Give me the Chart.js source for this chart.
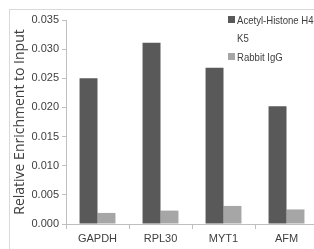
<!DOCTYPE html>
<html>
<head>
<meta charset="utf-8">
<script src="https://cdn.jsdelivr.net/npm/chart.js@4"></script>
<style>
  html, body { margin: 0; padding: 0; background: #fff; overflow: hidden; }
  #wrap { position: relative; width: 314px; height: 249px; overflow: hidden; }
  #frame { position: absolute; left: 9px; top: 9px; width: 400px; height: 300px;
           border-left: 1px solid #d9d9d9; border-top: 1px solid #d9d9d9; }
  #chart { position: absolute; left: 0; top: 0; }
  .legend { position: absolute; left: 228px; width: 120px; font-family: "Liberation Sans", sans-serif;
            font-size: 11px; color: #404040; line-height: 18px; white-space: nowrap; }
  .legend .item { position: relative; padding-left: 9px; }
  .legend .txt { display: inline-block; transform: scaleX(0.87); transform-origin: left center; }
  .legend .sw { position: absolute; left: 0; top: 5px; width: 7px; height: 7px; }
</style>
</head>
<body>
<div id="wrap">
  <div id="frame"></div>
  <canvas id="chart" width="318" height="249"></canvas>
  <div class="legend" style="top: 11px;">
    <div class="item"><span class="sw" style="background:#595959"></span><span class="txt">Acetyl-Histone H4<br>K5</span></div>
    <div class="item" style="margin-top:1px"><span class="sw" style="background:#a6a6a6"></span><span class="txt">Rabbit IgG</span></div>
  </div>
</div>
<script>
const categories = ["GAPDH", "RPL30", "MYT1", "AFM"];
const acetylValues = [0.0250, 0.0311, 0.0268, 0.0202];
const iggValues = [0.0019, 0.0023, 0.0031, 0.0025];
const yTicks = [0, 0.005, 0.01, 0.015, 0.02, 0.025, 0.03, 0.035];

const fontFamily = '"Liberation Sans", sans-serif';
const axisGray = "#bfbfbf";
const textGray = "#404040";

const ctx = document.getElementById("chart").getContext("2d");
const chart = new Chart(ctx, {
  type: "bar",
  data: {
    labels: categories,
    datasets: [
      { label: "Acetyl-Histone H4 K5", data: acetylValues, backgroundColor: "#595959" },
      { label: "Rabbit IgG", data: iggValues, backgroundColor: "#a6a6a6" }
    ]
  },
  options: {
    responsive: false,
    animation: false,
    layout: { padding: { top: 20, left: 0, right: 0, bottom: 0 } },
    datasets: { bar: { categoryPercentage: 0.57, barPercentage: 1.0 } },
    plugins: { legend: { display: false }, tooltip: { enabled: false } },
    scales: {
      x: {
        grid: { drawOnChartArea: false, drawTicks: true, tickLength: 5, color: axisGray, offset: true },
        border: { color: axisGray },
        ticks: { color: textGray, font: { family: fontFamily, size: 11 }, padding: 3 },
        afterFit: (scale) => { scale.height = 25; }
      },
      y: {
        min: 0,
        max: 0.035,
        afterBuildTicks: (scale) => { scale.ticks = yTicks.map(v => ({ value: v })); },
        grid: { drawOnChartArea: false, drawTicks: true, tickLength: 4, color: axisGray },
        border: { color: axisGray },
        ticks: {
          color: textGray,
          font: { family: fontFamily, size: 11 },
          padding: 3,
          callback: (v) => v.toFixed(3)
        },
        title: {
          display: true,
          text: "Relative Enrichment to Input",
          color: textGray,
          font: { family: "Open Sans", size: 14 },
          padding: { top: 12, bottom: 0 }
        },
        afterFit: (scale) => { scale.width = 66; }
      }
    }
  }
});
</script>
</body>
</html>
